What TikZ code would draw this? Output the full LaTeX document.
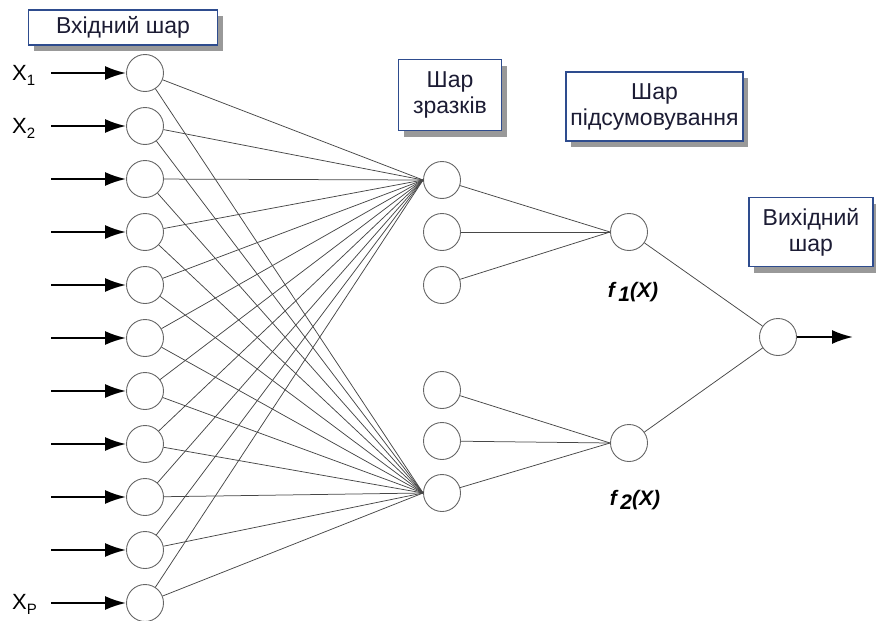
\documentclass[tikz,border=0pt]{standalone}
\usepackage{fontspec}
\setmainfont{Liberation Sans}
\usetikzlibrary{arrows.meta,shadows}

\definecolor{boxblue}{HTML}{2E4C8E}
\definecolor{boxtext}{HTML}{1C1C34}

\tikzset{
  neuron/.style={circle, draw=black!60, line width=0.9pt, minimum size=37pt, inner sep=0pt},
  link/.style={draw=black!72, line width=0.75pt},
  feed/.style={line width=2.2pt, -{Latex[length=21pt,width=14pt]}},
  layerbox/.style={draw=boxblue, line width=1.2pt, fill=white, align=center, inner sep=0pt,
    text=boxtext, font=\fontsize{23}{26}\selectfont,
    drop shadow={shadow xshift=5pt, shadow yshift=-6pt, fill=black, opacity=0.4}},
  xlabel/.style={anchor=west, inner sep=0pt, font=\fontsize{22}{24}\selectfont},
  flabel/.style={inner sep=0pt, font=\fontsize{21}{24}\selectfont\bfseries\itshape},
}

\begin{document}
\begin{tikzpicture}[x=1pt, y=-1pt]
\useasboundingbox (0,0) rectangle (876,621);

% layers
\foreach \n in {1,...,11}
  \node[neuron] (i\n) at (145, {73+53*(\n-1)}) {};
\foreach \n/\y in {1/180, 2/232, 3/285, 4/390, 5/441, 6/493}
  \node[neuron] (p\n) at (442, \y) {};
\node[neuron] (s1) at (629, 232) {};
\node[neuron] (s2) at (629, 443) {};
\node[neuron] (out) at (778, 337) {};

% inputs
\foreach \n in {1,...,11} {
  \coordinate (a\n) at (51, {73+53*(\n-1)});
  \draw[feed] (a\n) -- (i\n);
  \draw[link] (i\n) -- (p1.west);
  \draw[link] (i\n) -- (p6.west);
}
\node[xlabel] (x1) at (12, 75) {X\raisebox{-5pt}{\fontsize{15}{15}\selectfont 1}};
\node[xlabel] (x2) at (12, 128) {X\raisebox{-5pt}{\fontsize{15}{15}\selectfont 2}};
\node[xlabel] (xp) at (12, 604) {X\raisebox{-5pt}{\fontsize{15}{15}\selectfont P}};

% pattern -> summation -> output
\foreach \n in {1,2,3}
  \draw[link] (p\n) -- (s1.west);
\foreach \n in {4,5,6}
  \draw[link] (p\n) -- (s2.west);
\draw[link] (s1) -- (out);
\draw[link] (s2) -- (out);
\coordinate (y) at (853, 337);
\draw[feed] (out) -- (y);

\node[flabel] (f1) at (633, 292) {f\,\raisebox{-4pt}{1}(X)};
\node[flabel] (f2) at (635, 500) {f\,\raisebox{-4pt}{2}(X)};

% captions
\node[layerbox, minimum width=189pt, minimum height=35pt] (inlayer) at (123, 27.5) {Вхідний шар};
\node[layerbox, minimum width=103pt, minimum height=71pt] (patlayer) at (450, 95) {Шар\\зразків};
\node[layerbox, minimum width=177pt, minimum height=69pt] (sumlayer) at (654.5, 106.5) {Шар\\підсумовування};
\node[layerbox, minimum width=124pt, minimum height=69pt] (outlayer) at (811, 232) {Вихідний\\шар};
\end{tikzpicture}
\end{document}
